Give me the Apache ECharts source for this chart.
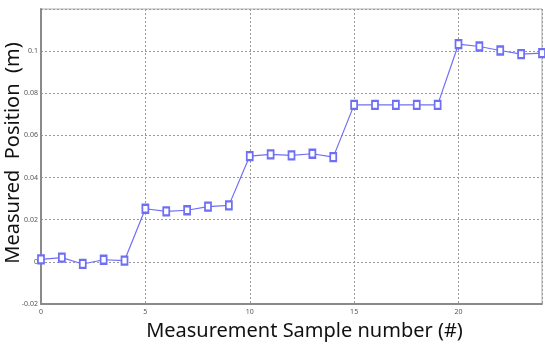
<!DOCTYPE html>
<html>
<head>
<meta charset="utf-8">
<script src="https://cdn.jsdelivr.net/npm/echarts@6/dist/echarts.min.js"></script>
<style>
  html, body { margin: 0; padding: 0; background: #fff; }
  #chart { width: 545px; height: 347px; }
</style>
</head>
<body>
<div id="chart"></div>
<script>
// Sample indices and measured positions (m)
const sampleIndex = [0, 1, 2, 3, 4, 5, 6, 7, 8, 9, 10, 11, 12, 13, 14, 15, 16, 17, 18, 19, 20, 21, 22, 23, 24];
const measuredPosition = [
  0.0012, 0.0020, -0.0010, 0.0010, 0.0006,
  0.0252, 0.0240, 0.0245, 0.0262, 0.0268,
  0.0502, 0.0510, 0.0505, 0.0513, 0.0497,
  0.0745, 0.0745, 0.0745, 0.0745, 0.0745,
  0.1033, 0.1022, 0.1003, 0.0986, 0.0991
];
const xTicks = [0, 5, 10, 15, 20];
const yTicks = [-0.02, 0, 0.02, 0.04, 0.06, 0.08, 0.1];

const points = sampleIndex.map((x, i) => [x, measuredPosition[i]]);

function fmtY(v) {
  const r = Math.round(v * 1000) / 1000;
  if (!yTicks.some(t => Math.abs(t - r) < 1e-9)) return '';
  return String(r);
}
function fmtX(v) {
  return xTicks.indexOf(Math.round(v)) >= 0 ? String(Math.round(v)) : '';
}

const chart = echarts.init(document.getElementById('chart'), null, { renderer: 'canvas' });
chart.setOption({
  animation: false,
  backgroundColor: '#ffffff',
  grid: {
    left: 41, right: 3, top: 9, bottom: 43,
    containLabel: false,
    outerBoundsMode: 'none',
    show: true, borderColor: '#b0b0b0', borderWidth: 1, backgroundColor: '#ffffff'
  },
  xAxis: {
    type: 'value',
    min: 0, max: 24, interval: 5,
    name: 'Measurement Sample number (#)',
    nameLocation: 'middle',
    nameGap: 17,
    nameMoveOverlap: false,
    nameTextStyle: { fontFamily: 'Noto Sans', fontSize: 20, color: '#111', padding: [0, 0, 0, 26] },
    axisLine: { show: true, onZero: false, lineStyle: { color: '#8a8a8a', width: 2 } },
    axisTick: { show: false },
    axisLabel: { fontSize: 7, color: '#555', margin: 4, formatter: fmtX, fontFamily: 'Noto Sans' },
    splitLine: { show: true, lineStyle: { type: [2, 2], color: '#9a9a9a', width: 1 } }
  },
  yAxis: {
    type: 'value',
    min: -0.02, max: 0.12, interval: 0.02,
    name: 'Measured  Position  (m)',
    nameLocation: 'middle',
    nameRotate: 90,
    nameGap: 18,
    nameMoveOverlap: false,
    nameTextStyle: { fontFamily: 'Noto Sans', fontSize: 20, color: '#111', padding: [0, 0, 0, 7] },
    axisLine: { show: true, onZero: false, lineStyle: { color: '#8a8a8a', width: 2 } },
    axisTick: { show: false },
    axisLabel: { fontSize: 7, color: '#555', margin: 3, formatter: fmtY, fontFamily: 'Noto Sans' },
    splitLine: { show: true, lineStyle: { type: [2, 2], color: '#9a9a9a', width: 1 } }
  },
  series: [{
    type: 'line',
    data: points,
    symbol: 'emptyRect',
    symbolSize: [6, 8],
    lineStyle: { color: '#6f6ff5', width: 1.2 },
    itemStyle: { color: '#6f6ff5', borderWidth: 1.1 }
  }]
});
</script>
</body>
</html>
